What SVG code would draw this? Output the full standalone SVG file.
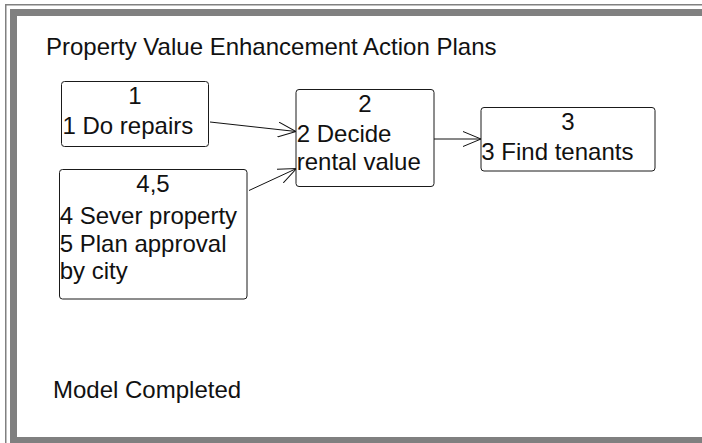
<svg xmlns="http://www.w3.org/2000/svg" width="702" height="443" viewBox="0 0 702 443">
<style>
  .frame { fill: #808080; }
  .box { fill: #ffffff; stroke: #1a1a1a; stroke-width: 1; }
  .t { font-family: "Liberation Sans", Arial, sans-serif; font-size: 24px; fill: #111111; }
  .c { text-anchor: middle; }
  .conn { stroke: #111111; stroke-width: 1; fill: none; }
</style>
<defs>
  <marker id="arr" viewBox="0 0 18 16" refX="18" refY="8" markerWidth="18" markerHeight="16" markerUnits="userSpaceOnUse" orient="auto">
    <path d="M0,0.5 L18,8 L0,15.5" fill="none" stroke="#111111" stroke-width="1"/>
  </marker>
</defs>
<rect x="0" y="0" width="702" height="443" fill="#ffffff"/>
<g id="frame">
  <rect class="frame" x="5" y="4" width="697" height="1.5"/>
  <rect class="frame" x="5" y="4" width="1.5" height="439"/>
  <rect class="frame" x="10" y="9" width="692" height="7"/>
  <rect class="frame" x="10" y="9" width="7" height="434"/>
  <rect class="frame" x="10" y="437" width="692" height="6"/>
</g>
<text id="title" class="t" x="46" y="55">Property Value Enhancement Action Plans</text>
<g id="connectors">
  <line class="conn" x1="210" y1="122" x2="296" y2="131.5" marker-end="url(#arr)"/>
  <line class="conn" x1="249" y1="190.5" x2="296.5" y2="168.5" marker-end="url(#arr)"/>
  <line class="conn" x1="434" y1="139" x2="481" y2="139" marker-end="url(#arr)"/>
</g>
<g id="node1">
  <rect class="box" x="61.5" y="81.5" width="147" height="65" rx="3"/>
  <text class="t c" x="135" y="104">1</text>
  <text class="t" x="62.5" y="134">1 Do repairs</text>
</g>
<g id="node2">
  <rect class="box" x="296" y="89.5" width="138" height="97" rx="3"/>
  <text class="t c" x="365" y="112">2</text>
  <text class="t" x="296.7" y="142">2 Decide</text>
  <text class="t" x="296.7" y="170">rental value</text>
</g>
<g id="node3">
  <rect class="box" x="481" y="107.5" width="174" height="63.5" rx="3"/>
  <text class="t c" x="568" y="130">3</text>
  <text class="t" x="481.3" y="160">3 Find tenants</text>
</g>
<g id="node45">
  <rect class="box" x="59.5" y="169.5" width="187.5" height="129.5" rx="3"/>
  <text class="t c" x="153" y="192">4,5</text>
  <text class="t" x="59.7" y="224">4 Sever property</text>
  <text class="t" x="59.7" y="252">5 Plan approval</text>
  <text class="t" x="59.7" y="278.5">by city</text>
</g>
<text id="status" class="t" x="53" y="398">Model Completed</text>
</svg>
